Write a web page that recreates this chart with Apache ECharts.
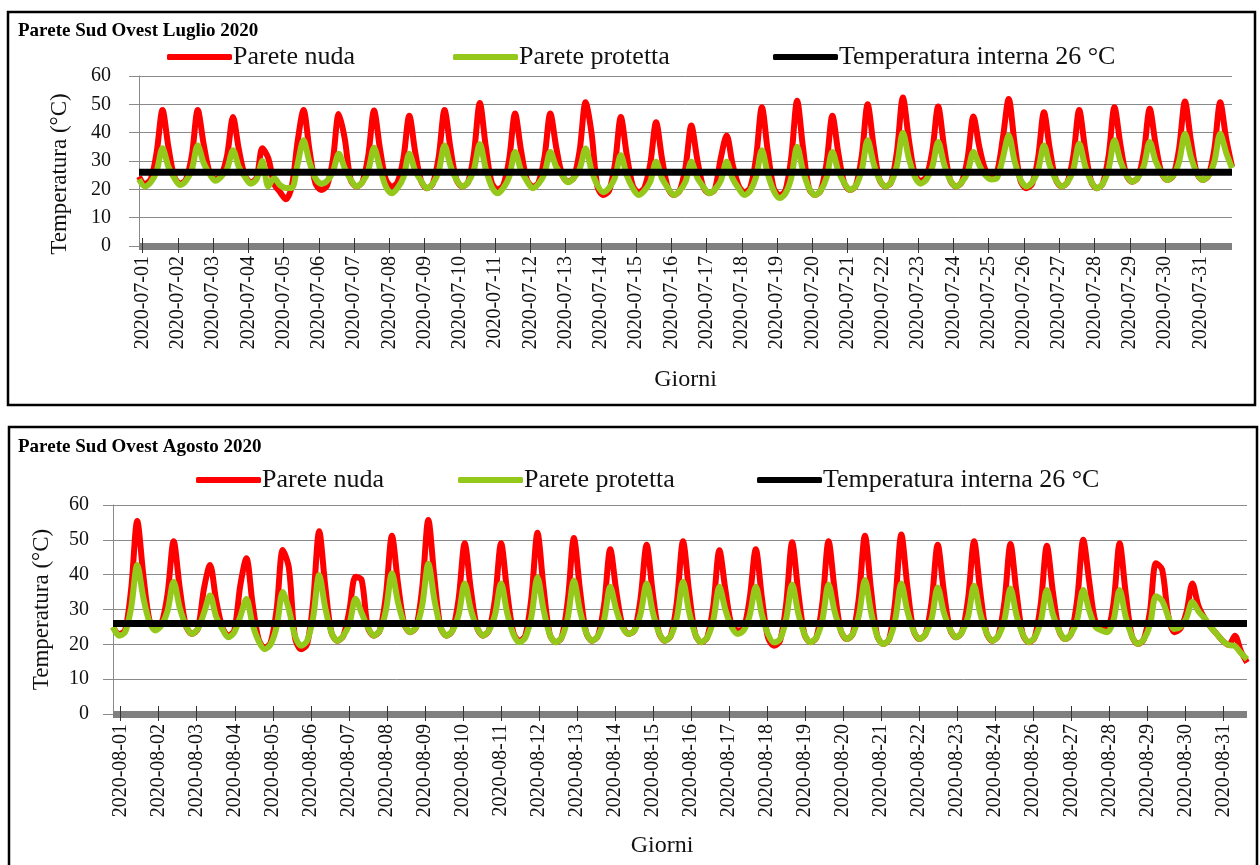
<!DOCTYPE html>
<html>
<head>
<meta charset="utf-8">
<script src="https://cdn.jsdelivr.net/npm/echarts@6.0.0/dist/echarts.min.js"></script>
<style>
html,body{margin:0;padding:0;background:#ffffff;}
#chart{width:1260px;height:865px;}
</style>
</head>
<body>
<div id="chart"></div>
<script>
// ---------- DATA ----------
const julyDates = ['2020-07-01','2020-07-02','2020-07-03','2020-07-04','2020-07-05','2020-07-06','2020-07-07','2020-07-08','2020-07-09','2020-07-10',
  '2020-07-11','2020-07-12','2020-07-13','2020-07-14','2020-07-15','2020-07-16','2020-07-17','2020-07-18','2020-07-19','2020-07-20',
  '2020-07-21','2020-07-22','2020-07-23','2020-07-24','2020-07-25','2020-07-26','2020-07-27','2020-07-28','2020-07-29','2020-07-30','2020-07-31'];

const augDates = ['2020-08-01','2020-08-02','2020-08-03','2020-08-04','2020-08-05','2020-08-06','2020-08-07','2020-08-08','2020-08-09','2020-08-10',
  '2020-08-11','2020-08-12','2020-08-13','2020-08-14','2020-08-15','2020-08-16','2020-08-17','2020-08-18','2020-08-19','2020-08-20',
  '2020-08-21','2020-08-22','2020-08-23','2020-08-24','2020-08-26','2020-08-27','2020-08-28','2020-08-29','2020-08-30','2020-08-31'];

const yTicks = [0, 10, 20, 30, 40, 50, 60];
const internalTemp = 26;

// July, "Parete nuda" (bare wall), samples at ~4 h steps
const julyNuda = [
  24.5, 22, 23.5, 33,
  48, 35, 24.5, 22, 23.5, 32,
  48, 36, 26, 23.5, 25, 32,
  45.5, 34, 25, 22.5, 24, 34.5,
  31, 22, 19, 16.5, 21, 37,
  48, 34, 22.3, 19.8, 21.3, 30.5,
  46.6, 38, 23.5, 21, 22.5, 31.7,
  47.8, 34.4, 23.5, 21, 22.5, 31,
  46, 33.2, 23, 20.4, 22, 31.4,
  48, 34.5, 23.5, 21, 22.5, 32.8,
  50.5, 35.3, 22.5, 20, 21.5, 30.7,
  46.8, 33.9, 23.5, 21, 22.5, 31.3,
  46.8, 34.8, 25.2, 22.7, 24.2, 33.9,
  50.7, 40, 21, 18, 19.5, 29,
  45.5, 32.3, 21.5, 19, 20.5, 28.9,
  43.7, 30.9, 20.5, 18, 19.5, 27.8,
  42.5, 30.6, 21, 18.6, 20, 31,
  39, 29, 21.5, 19, 20.5, 31,
  49, 33.5, 20.5, 18, 19.5, 31.3,
  51.3, 34.6, 20.5, 18, 19.5, 29.2,
  46, 32.9, 22.3, 19.8, 21.3, 31.9,
  50, 35.5, 23.5, 21, 22.5, 33.6,
  52.4, 37.7, 25.5, 23, 24.5, 33.5,
  49.2, 35.1, 23.5, 21, 22.5, 30.9,
  45.7, 35, 27, 25, 26, 38,
  51.9, 36.2, 23, 20.4, 22, 31.1,
  47.2, 34.1, 23.5, 21, 22.5, 31.8,
  48, 34.2, 23, 20.4, 22, 31.8,
  49, 35.9, 25.2, 22.7, 24.2, 33,
  48.4, 35.9, 25.8, 23.3, 24.8, 34.4,
  51, 37.2, 25.8, 23.3, 24.8, 34.3,
  50.7, 38, 28
];

// July, "Parete protetta" (protected wall)
const julyProtetta = [
  23.5, 21, 22.5, 26.4,
  34.5, 28, 24, 21.5, 23, 27.1,
  35.5, 29.3, 25.5, 23, 24.5, 27.3,
  33.8, 27.9, 24.5, 22, 23.5, 30,
  21, 24, 21.5, 20.5, 20.5, 29,
  37.3, 29.7, 24, 22, 23, 26.2,
  32.6, 27.5, 23.5, 21, 22.5, 26.5,
  34.7, 27.5, 21, 18.6, 20.5, 24.2,
  32.6, 26.5, 23, 20.4, 22, 26.4,
  35.5, 28.3, 23.5, 21, 22.5, 27,
  36, 27.3, 21, 18.6, 20.5, 24.4,
  33.2, 26.8, 23, 20.4, 22, 25.5,
  33.2, 27.9, 25, 22.5, 24, 27.3,
  34.4, 26.7, 21.5, 19, 20.5, 24.2,
  32, 25, 20.5, 18, 19.5, 22.7,
  29.7, 23.9, 20.5, 18, 19.5, 22.7,
  29.7, 24.2, 21, 18.6, 20, 23,
  29.7, 23.9, 20.5, 18, 19.5, 24.3,
  33.8, 25.4, 19.5, 16.9, 18.5, 24.1,
  35, 26.5, 20.5, 18, 19.5, 24.1,
  33.2, 26.5, 22.3, 19.8, 21.3, 26.8,
  37.3, 29.2, 23.5, 21, 22.5, 28.6,
  40, 31, 24.5, 22, 23.5, 27.9,
  36.7, 28.9, 23.5, 21, 22.5, 25.9,
  33.2, 28.5, 25, 23.5, 24, 31,
  39, 30, 23.5, 21, 22.5, 26.8,
  35.5, 28.3, 23.5, 21, 22.5, 27,
  36.1, 28.3, 23, 20.4, 22, 27.2,
  37.3, 30, 25.2, 22.7, 24.2, 28.3,
  36.7, 30, 25.8, 23.3, 24.8, 29.8,
  39.6, 31.5, 25.8, 23.3, 24.8, 29.8,
  39.6, 33, 27.5
];

// August, "Parete nuda"
const augNuda = [
  25, 23, 24, 36,
  55.4, 39.9, 27, 24.4, 26, 34.5,
  49.6, 36.3, 25.5, 23, 24.5, 36,
  42.8, 32.7, 25, 22.5, 24, 37,
  44.7, 31.9, 21.5, 19, 20.5, 30.2,
  47.1, 42, 22, 18.6, 20, 32.2,
  52.5, 36.8, 23.5, 21, 22.5, 30,
  39.4, 38.5, 25, 22.5, 24, 34,
  51.2, 37.4, 26, 23.5, 25, 36.4,
  55.7, 39.1, 25, 22.5, 24, 33.1,
  49, 35.8, 25, 22.5, 24, 33.1,
  49, 35, 23.5, 21, 22.5, 33.4,
  52, 36.3, 23, 20.6, 22, 32.6,
  50.5, 35.8, 23.5, 21, 22.5, 31.5,
  47.3, 35.2, 25.5, 23, 24, 33.2,
  48.6, 34.8, 23.5, 21, 22.5, 32.4,
  49.6, 35.1, 23, 20.6, 22, 31.2,
  47, 35.5, 25.5, 24, 24.5, 33.3,
  47.3, 33.5, 22, 19.6, 21, 31.5,
  49.3, 35, 23, 20.6, 22, 32.2,
  49.6, 35.6, 24, 21.5, 23, 33.4,
  51.2, 35.7, 22.5, 20.1, 21.5, 32.7,
  51.5, 36.5, 24, 21.5, 23, 32.3,
  48.6, 35.3, 24.5, 22, 23.5, 33,
  49.6, 35.3, 23.5, 21, 22.5, 32.1,
  48.8, 34.7, 23, 20.6, 22, 31.7,
  48.3, 34.9, 24, 21.5, 23, 32.9,
  50, 37.8, 26.5, 25.5, 25, 32,
  49, 34.6, 22.5, 20.1, 21.5, 29.4,
  43.3, 41.5, 28.3, 23.5, 24.5, 29.1,
  37.5, 31, 27.5, 25, 23, 21,
  19.8, 22.5, 18, 14.8
];

// August, "Parete protetta"
const augProtetta = [
  25, 22.5, 23.5, 30.6,
  42.8, 33.4, 26.5, 24, 25.5, 29.6,
  38, 30.5, 25.5, 23, 24.5, 29,
  34, 28, 24.5, 22, 23.5, 28,
  33, 25.8, 21, 18.6, 20, 25.2,
  35, 30, 22.5, 19.6, 21, 27.7,
  39.9, 30.5, 23.5, 21, 22.5, 26,
  33.1, 29, 25, 22.5, 24, 29.7,
  40.4, 32, 26, 23.5, 25, 31.3,
  43.1, 32.8, 25, 22.5, 24, 28.5,
  37.5, 30, 25, 22.5, 24, 28.5,
  37.5, 29, 23, 20.6, 22, 28,
  39.2, 29.9, 23, 20.6, 22, 27.7,
  38.3, 29.7, 23.5, 21, 22.5, 27.2,
  36.5, 29.8, 25, 23, 24, 28.8,
  37.5, 29.3, 23.5, 21, 22.5, 27.8,
  38, 29.3, 23, 20.6, 22, 27,
  36.5, 29.8, 25, 23, 24, 28.4,
  36.5, 28.5, 23, 20.5, 21.5, 27.2,
  37.2, 28.9, 23, 20.6, 22, 27.2,
  37.2, 29.4, 24, 21.5, 23, 28.3,
  38.5, 29.3, 22.5, 20.1, 21.5, 27.1,
  37.5, 29.5, 24, 21.5, 23, 27.4,
  36.3, 29.2, 24.5, 22, 23.5, 27.9,
  36.8, 28.9, 23.5, 21, 22.5, 27,
  36, 28.3, 23, 20.6, 22, 26.6,
  35.6, 28.6, 24, 21.5, 23, 27.1,
  35.6, 29.6, 25, 24, 23.5, 27,
  35.6, 27.9, 22.5, 20.1, 21.5, 25.6,
  33.8, 32.5, 28, 24.4, 25, 27.5,
  32.2, 29.5, 27.5, 25, 23, 21,
  19.8, 19.5, 17.5, 15.7
];

// ---------- LAYOUT / STYLE ----------
const SERIF = '"Liberation Serif", "Times New Roman", serif';
const TXT = '#111111';
const RED = '#ff0000';
const GREEN = '#94c91c';
const BLACK = '#000000';
const GRIDC = '#8a8a8a';

const panels = [
  { title: 'Parete Sud Ovest Luglio 2020', dates: julyDates, nuda: julyNuda, prot: julyProtetta,
    frame: {x: 8, y: 12, width: 1247, height: 393}, titleTop: 22, legendTop: 43, legendLeft: [167, 453, 773],
    grid: {left: 139, top: 76, width: 1093, height: 170}, tickStart: 0.6, tickStep: 6.0,
    yLabelMargin: 28, yNameGap: 68, yNamePad: [0, 26, 0, 0], xNameGap: 122, xNamePad: [0, 0, 0, 0] },
  { title: 'Parete Sud Ovest Agosto 2020', dates: augDates, nuda: augNuda, prot: augProtetta,
    frame: {x: 9, y: 427, width: 1248, height: 470}, titleTop: 438, legendTop: 466, legendLeft: [196, 458, 757],
    grid: {left: 113, top: 505, width: 1134, height: 209}, tickStart: 1.27, tickStep: 6.27,
    yLabelMargin: 24, yNameGap: 60, yNamePad: [0, 0, 0, 0], xNameGap: 120, xNamePad: [0, 36, 0, 0] }
];

const seriesNames = ['Parete nuda', 'Parete protetta', 'Temperatura interna 26 °C'];

const option = {
  animation: false,
  backgroundColor: '#ffffff',
  title: [], legend: [], grid: [], xAxis: [], yAxis: [], series: [],
  graphic: []
};

panels.forEach((p, i) => {
  const ticks = p.dates.map((d, j) => p.tickStart + j * p.tickStep);
  const maxX = p.nuda.length - 1;
  const fmt = (val) => {
    const j = Math.round((val - p.tickStart) / p.tickStep);
    return p.dates[j] !== undefined ? p.dates[j] : '';
  };

  option.graphic.push({
    type: 'rect', silent: true, z: 100,
    shape: p.frame,
    style: {fill: 'none', stroke: '#000', lineWidth: 2.5}
  });

  option.title.push({
    text: p.title, left: 18, top: p.titleTop, padding: 0,
    textStyle: {fontFamily: SERIF, fontWeight: 'bold', fontSize: 19, color: '#000'}
  });

  seriesNames.forEach((name, s) => {
    option.legend.push({
      data: [name], left: p.legendLeft[s], top: p.legendTop, padding: 0,
      icon: 'roundRect', itemWidth: 65, itemHeight: 6, itemGap: 0,
      textStyle: {fontFamily: SERIF, fontSize: 26, color: TXT, lineHeight: 28, padding: [0, 0, 0, -4]},
      selectedMode: false
    });
  });

  option.grid.push(Object.assign({containLabel: false, outerBoundsMode: 'none'}, p.grid));

  // main x axis (band, labels, outward ticks)
  option.xAxis.push({
    type: 'value', gridIndex: i, min: 0, max: maxX,
    axisLine: {show: true, onZero: false, lineStyle: {color: '#808080', width: 7, cap: 'butt'}},
    axisTick: {show: true, customValues: ticks, length: 7, lineStyle: {color: '#333', width: 1}},
    axisLabel: {show: true, customValues: ticks, rotate: 90, margin: 10,
      fontFamily: SERIF, fontSize: 20, color: TXT, formatter: fmt},
    splitLine: {show: false},
    name: 'Giorni', nameLocation: 'middle', nameGap: p.xNameGap,
    nameTextStyle: {fontFamily: SERIF, fontSize: 24, color: TXT, padding: p.xNamePad}
  });
  // overlay x axis for the upward half of the tick marks
  option.xAxis.push({
    type: 'value', gridIndex: i, min: 0, max: maxX, position: 'bottom',
    axisLine: {show: false},
    axisTick: {show: true, inside: true, customValues: ticks, length: 8, lineStyle: {color: '#333', width: 1}},
    axisLabel: {show: false},
    splitLine: {show: false}
  });

  option.yAxis.push({
    type: 'value', gridIndex: i, min: yTicks[0], max: yTicks[yTicks.length - 1], interval: yTicks[1] - yTicks[0],
    axisLine: {show: true, lineStyle: {color: GRIDC, width: 1}},
    axisTick: {show: true, length: 10, lineStyle: {color: GRIDC, width: 1}},
    splitLine: {show: true, lineStyle: {color: GRIDC, width: 1}},
    axisLabel: {fontFamily: SERIF, fontSize: 20, color: TXT, margin: p.yLabelMargin},
    name: 'Temperatura (°C)', nameLocation: 'middle', nameGap: p.yNameGap,
    nameTextStyle: {fontFamily: SERIF, fontSize: 23, color: TXT, padding: p.yNamePad}
  });

  const xi = 2 * i;
  option.series.push({
    name: seriesNames[0], type: 'line', xAxisIndex: xi, yAxisIndex: i,
    data: p.nuda.map((v, j) => [j, v]),
    showSymbol: false, smooth: 0.3,
    lineStyle: {color: RED, width: 6}, itemStyle: {color: RED}, z: 2
  });
  option.series.push({
    name: seriesNames[1], type: 'line', xAxisIndex: xi, yAxisIndex: i,
    data: p.prot.map((v, j) => [j, v]),
    showSymbol: false, smooth: 0.3,
    lineStyle: {color: GREEN, width: 6}, itemStyle: {color: GREEN}, z: 3
  });
  option.series.push({
    name: seriesNames[2], type: 'line', xAxisIndex: xi, yAxisIndex: i,
    data: [[0, internalTemp], [maxX, internalTemp]],
    showSymbol: false,
    lineStyle: {color: BLACK, width: 7, cap: 'butt'}, itemStyle: {color: BLACK}, z: 4
  });
});

const chart = echarts.init(document.getElementById('chart'), null, {renderer: 'canvas'});
chart.setOption(option);
</script>
</body>
</html>
